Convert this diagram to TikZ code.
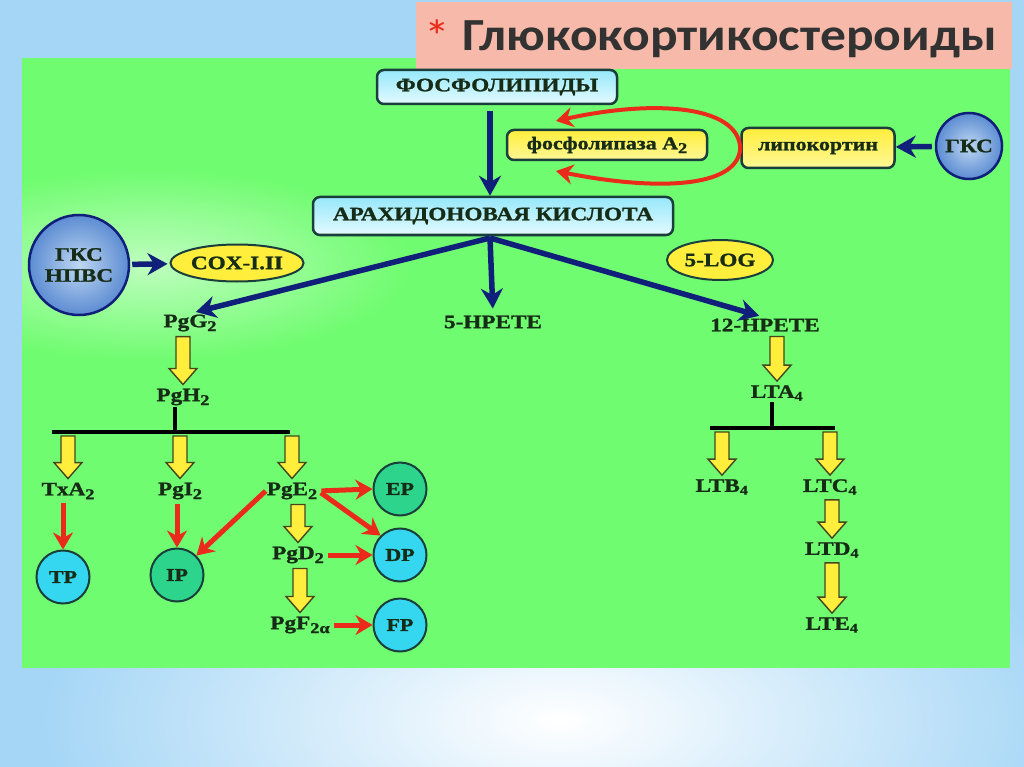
\documentclass[tikz,border=0pt]{standalone}
\usepackage{fontspec}
\setmainfont{Liberation Serif}
\newfontfamily\dgfont[FakeStretch=1.22,FakeBold=1.3]{Liberation Serif}
\newfontfamily\titlefont[FakeStretch=1.12]{Carlito}
\usetikzlibrary{arrows.meta,calc,shapes.geometric}
\newcommand{\lsub}[1]{\raisebox{-0.45ex}{\fontsize{15}{15}\selectfont #1}}

\definecolor{slidegreen}{RGB}{112,252,112}
\definecolor{slideblue}{RGB}{165,214,246}
\definecolor{titlepink}{RGB}{247,186,170}
\definecolor{navyline}{RGB}{16,32,122}
\definecolor{redline}{RGB}{234,42,26}
\definecolor{boxedge}{RGB}{26,62,60}
\definecolor{lemon}{RGB}{255,238,60}
\definecolor{yedge}{RGB}{70,70,30}
\definecolor{textdark}{RGB}{22,44,22}
\definecolor{rcyan}{RGB}{52,214,240}
\definecolor{rgreen}{RGB}{44,212,140}

\begin{document}
\begin{tikzpicture}[x=1pt,y=-1pt,
  lbl/.style={font=\dgfont\bfseries\fontsize{19}{21}\selectfont, text=textdark, inner sep=1pt},
  box/.style={lbl, draw=boxedge, line width=2.5pt, rounded corners=7pt,
    top color={rgb,255:red,150;green,232;blue,250}, bottom color={rgb,255:red,228;green,250;blue,255}},
  ybox/.style={box, top color=lemon, bottom color={rgb,255:red,255;green,248;blue,150}},
  oval/.style={lbl, ellipse, draw=boxedge, line width=2pt, fill=lemon},
  rcp/.style={lbl, circle, draw=boxedge, line width=2pt, minimum size=53pt, font=\dgfont\bfseries\fontsize{18}{20}\selectfont},
  gkc/.style={lbl, circle, draw=navyline, line width=2.5pt, align=center,
    inner color={rgb,255:red,190;green,215;blue,242}, outer color={rgb,255:red,92;green,140;blue,210}},
  nav/.style={draw=navyline, line width=5.5pt, -{Stealth[length=20pt,width=22pt]}},
  rd/.style={draw=redline, line width=5pt, -{Stealth[length=17pt,width=20pt]}},
  stem/.style={draw=black, line width=4.5pt},
  yel/.style={draw=yedge, line width=1.4pt, fill=lemon, line join=miter,
    to path={let \p1=(\tikztostart), \p2=(\tikztotarget) in
      (\x2-7pt,\y1-4pt) -- (\x2+7pt,\y1-4pt) -- (\x2+7pt,\y2+19pt) -- (\x2+14pt,\y2+19pt)
      -- (\x2,\y2+3pt) -- (\x2-14pt,\y2+19pt) -- (\x2-7pt,\y2+19pt) -- cycle}}]
\useasboundingbox (0,0) rectangle (1024,767);
\fill[slideblue] (0,0) rectangle (1024,767);
\shade[inner color=white, outer color=slideblue] (560,720) ellipse [x radius=520, y radius=230];
\fill[slidegreen] (22,58) rectangle (1010,668);
\begin{scope}
\clip (22,58) rectangle (1010,668);
\shade[inner color=slidegreen!45!white, outer color=slidegreen] (150,265) ellipse [x radius=260, y radius=95];
\end{scope}
\fill[titlepink] (416,2) rectangle (1012,69);
\node[text=redline, font=\titlefont\fontsize{46}{46}\selectfont, inner sep=0pt] (star) at (437,36) {*};
\node[anchor=base west, text={rgb,255:red,50;green,50;blue,50}, font=\titlefont\bfseries\fontsize{46}{46}\selectfont, inner sep=0pt] (title) at (462,51) {Глюкокортикостероиды};

\node[box, minimum width=240, minimum height=34] (fosfo) at (497,87) {ФОСФОЛИПИДЫ};
\node[ybox, minimum width=200, minimum height=30, font=\dgfont\bfseries\fontsize{18}{20}\selectfont] (pla) at (607,145) {фосфолипаза А\lsub{2}};
\node[ybox, minimum width=153, minimum height=40, font=\dgfont\bfseries\fontsize{18}{20}\selectfont] (lipo) at (818,148) {липокортин};
\node[gkc, minimum size=66] (gks) at (969,146) {ГКС};
\node[box, minimum width=360, minimum height=38] (arach) at (493,216) {АРАХИДОНОВАЯ КИСЛОТА};
\node[gkc, minimum size=100] (gksn) at (79,265) {ГКС\\НПВС};
\node[oval, minimum width=125, minimum height=37] (cox) at (237,263) {COX-I.II};
\node[oval, minimum width=106, minimum height=40] (lox) at (720,260) {5-LOG};
\coordinate (fork) at (490,238);
\coordinate (plaup) at (556,121);
\coordinate (pladn) at (556,171);

\node[lbl] (pgg) at (190,323) {PgG\lsub{2}};
\node[lbl] (hp5) at (493,322) {5-HPETE};
\node[lbl] (hp12) at (765,325) {12-HPETE};
\node[lbl] (pgh) at (183,397) {PgH\lsub{2}};
\coordinate (hub) at (175,432);
\node[lbl] (txa) at (68,491) {TxA\lsub{2}};
\node[lbl] (pgi) at (180,491) {PgI\lsub{2}};
\node[lbl] (pge) at (292,491) {PgE\lsub{2}};
\node[lbl] (pgd) at (298,555) {PgD\lsub{2}};
\node[lbl] (pgf) at (300,625) {PgF\lsub{2α}};
\node[rcp, fill=rcyan] (tp) at (63,577) {TP};
\node[rcp, fill=rgreen] (ip) at (177,575) {IP};
\node[rcp, fill=rgreen] (ep) at (400,489) {EP};
\node[rcp, fill=rcyan] (dp) at (400,555) {DP};
\node[rcp, fill=rcyan] (fp) at (400,625) {FP};

\node[lbl] (lta) at (777,393) {LTA\textsubscript{4}};
\coordinate (hub2) at (772,428);
\node[lbl] (ltb) at (722,487) {LTB\textsubscript{4}};
\node[lbl] (ltc) at (830,487) {LTC\textsubscript{4}};
\node[lbl] (ltd) at (832,550) {LTD\textsubscript{4}};
\node[lbl] (lte) at (832,625) {LTE\textsubscript{4}};

\draw[nav, shorten <=6pt] (fosfo.south -| fork) -- (arach.north -| fork);
\draw[nav, shorten <=3pt] (gks) -- (lipo);
\draw[nav, shorten <=2pt, shorten >=2pt] (gksn) -- (cox);
\draw[nav, shorten >=6pt] (fork) -- (pgg.north);
\draw[nav, shorten >=6pt] (fork) -- (hp5.north);
\draw[nav, shorten >=6pt] (fork) -- (hp12.north);
\draw[rd, line width=4pt] (lipo.west) .. controls (738,104) and (650,100) .. (plaup);
\draw[rd, line width=4pt] (lipo.west) .. controls (738,190) and (650,190) .. (pladn);

\draw[yel] (pgg.south) to (pgh.north);
\draw[stem] (pgh.south -| hub) -- (hub);
\draw[stem] (52,432) -- (290,432);
\draw[yel] (hub -| txa) to (txa.north);
\draw[yel] (hub -| pgi) to (pgi.north);
\draw[yel] (hub -| pge) to (pge.north);
\draw[yel] (pge.south) to (pgd.north);
\draw[yel] (pgd.south) to (pgf.north);
\draw[rd, shorten <=3pt] (txa.south -| tp) -- (tp.north);
\draw[rd, shorten <=3pt] (pgi.south -| ip) -- (ip.north);
\draw[rd] (pge.west) -- (ip.north east);
\draw[rd, shorten <=3pt] (pge.east) -- (ep.west);
\draw[rd, shorten <=3pt] (pge.east) -- (dp.north west);
\draw[rd, shorten <=3pt] (pgd.east) -- (dp.west);
\draw[rd, shorten <=3pt] (pgf.east) -- (fp.west);

\draw[yel] (hp12.south) to (lta.north);
\draw[stem] (lta.south -| hub2) -- (hub2);
\draw[stem] (710,428) -- (835,428);
\draw[yel] (hub2 -| ltb) to (ltb.north);
\draw[yel] (hub2 -| ltc) to (ltc.north);
\draw[yel] (ltc.south) to (ltd.north);
\draw[yel] (ltd.south) to (lte.north);
\end{tikzpicture}
\end{document}
